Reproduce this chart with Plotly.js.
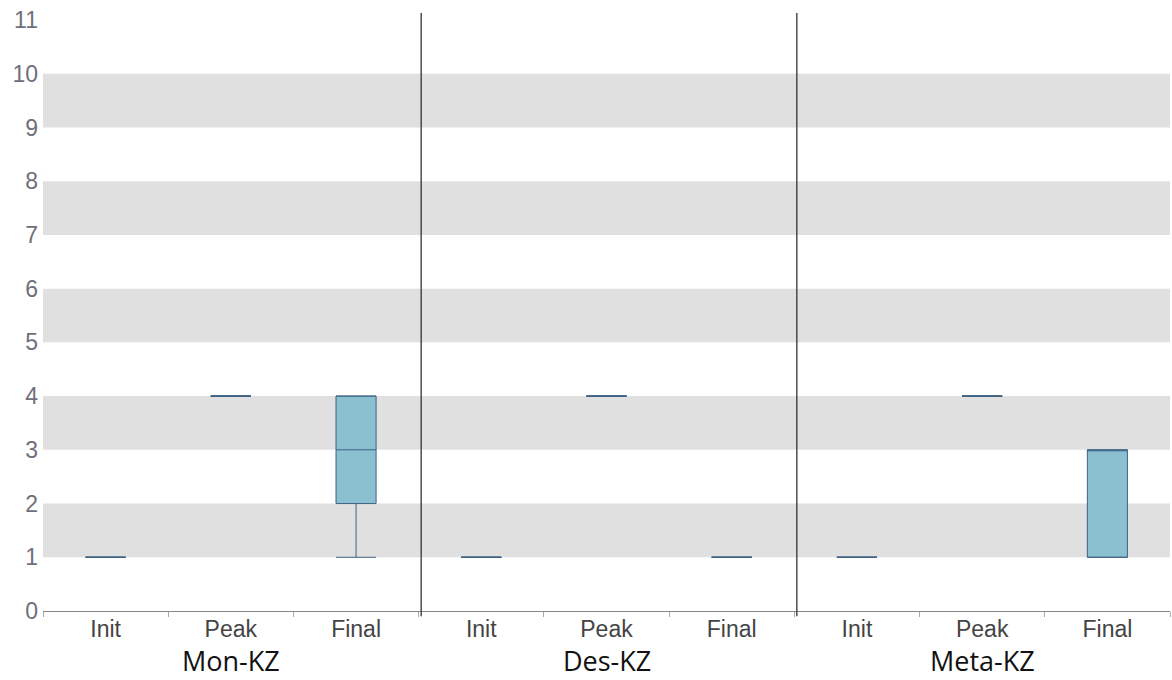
<!DOCTYPE html>
<html>
<head>
<meta charset="utf-8">
<script src="https://cdn.plot.ly/plotly-3.0.1.min.js"></script>
<style>html,body{margin:0;padding:0;background:#fff;}#chart{width:1172px;height:680px;}</style>
</head>
<body>
<div id="chart"></div>
<script>
// Data
const groups = ["Mon-KZ", "Des-KZ", "Meta-KZ"];
const phases = ["Init", "Peak", "Final"];
const lowerFence = [1, 4, 1,  1, 4, 1,  1, 4, 1];
const q1Values   = [1, 4, 2,  1, 4, 1,  1, 4, 1];
const medians    = [1, 4, 3,  1, 4, 1,  1, 4, 3];
const q3Values   = [1, 4, 4,  1, 4, 1,  1, 4, 3];
const upperFence = [1, 4, 4,  1, 4, 1,  1, 4, 3];
const yTicks = [0,1,2,3,4,5,6,7,8,9,10,11];
const bands = [[1,2],[3,4],[5,6],[7,8],[9,10]];

const cats = [];
const catText = [];
groups.forEach(g => phases.forEach(p => { cats.push(g + " " + p); catText.push(p); }));

const trace = {
  type: "box",
  x: cats,
  q1: q1Values,
  median: medians,
  q3: q3Values,
  lowerfence: lowerFence,
  upperfence: upperFence,
  boxpoints: false,
  width: 0.32,
  whiskerwidth: 1,
  fillcolor: "#8bc0d0",
  line: {color: "#3d6284", width: 1},
  hoverinfo: "skip",
  showlegend: false
};

const shapes = bands.map(b => ({
  type: "rect", xref: "paper", yref: "y", x0: 0, x1: 1, y0: b[0], y1: b[1],
  fillcolor: "#e0e0e0", line: {width: 0}, layer: "below"
}));
[2.52, 5.52].forEach(xv => shapes.push({
  type: "line", xref: "x", yref: "paper", x0: xv, x1: xv, y0: -0.009, y1: 1.012,
  line: {color: "#333333", width: 1.3}
}));

const annotations = groups.map((g, i) => ({
  xref: "x", yref: "paper", x: cats[i*3+1], y: -0.084, yanchor: "middle",
  text: g, showarrow: false,
  font: {family: "Open Sans, sans-serif", size: 27, color: "#111111"}
}));

const layout = {
  width: 1172, height: 680,
  margin: {l: 43, r: 2, t: 20, b: 69},
  paper_bgcolor: "#ffffff", plot_bgcolor: "#ffffff",
  xaxis: {
    type: "category",
    tickmode: "array", tickvals: cats, ticktext: catText,
    tickson: "boundaries", ticks: "outside", ticklen: 5, tickcolor: "#aaaaaa",
    ticklabelstandoff: -3,
    showgrid: false, showline: true, linecolor: "#888888", linewidth: 1,
    tickfont: {family: "Liberation Sans, Arial, sans-serif", size: 23, color: "#444444"},
    range: [-0.5, 8.5], fixedrange: true
  },
  yaxis: {
    range: [0, 11], tickmode: "array", tickvals: yTicks,
    showgrid: false, zeroline: false, showline: false, ticks: "",
    ticklabelstandoff: 4,
    tickfont: {family: "Liberation Sans, Arial, sans-serif", size: 23, color: "#6f6f7a"},
    fixedrange: true
  },
  shapes: shapes,
  annotations: annotations
};

Plotly.newPlot("chart", [trace], layout, {displayModeBar: false, staticPlot: true});
</script>
</body>
</html>
